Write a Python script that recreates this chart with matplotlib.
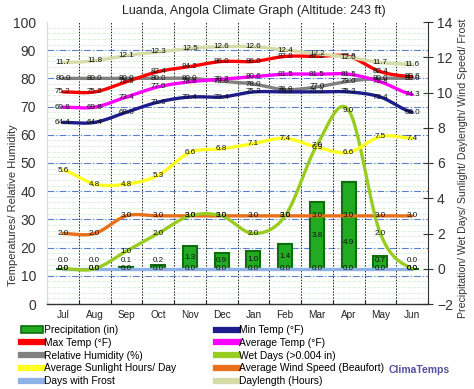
import numpy as np
import matplotlib
matplotlib.use("Agg")
import matplotlib.pyplot as plt
from matplotlib.patches import Patch
from matplotlib.lines import Line2D

plt.rcParams["font.family"] = ["Liberation Sans", "DejaVu Sans"]

months = ["Jul", "Aug", "Sep", "Oct", "Nov", "Dec", "Jan", "Feb", "Mar", "Apr", "May", "Jun"]
precip = [0.0, 0.0, 0.1, 0.2, 1.3, 0.9, 1.0, 1.4, 3.8, 4.9, 0.7, 0.0]
min_temp = [64.4, 64.4, 68.0, 71.6, 73.4, 73.4, 75.2, 75.2, 75.2, 75.2, 73.4, 68.0]
max_temp = [75.2, 75.2, 78.8, 82.4, 84.2, 86.0, 86.0, 87.8, 87.8, 87.8, 82.4, 80.6]
avg_temp = [69.8, 69.8, 73.4, 77.0, 78.8, 79.7, 80.6, 81.5, 81.5, 81.5, 78.8, 74.3]
humidity = [80.0, 80.0, 80.0, 80.0, 80.0, 79.0, 78.0, 76.0, 77.0, 79.0, 80.0, 80.0]
wet_days = [0.0, 0.0, 1.0, 2.0, 3.0, 3.0, 2.0, 3.0, 7.0, 9.0, 2.0, 0.0]
sunlight = [5.6, 4.8, 4.8, 5.3, 6.6, 6.8, 7.1, 7.4, 6.9, 6.6, 7.5, 7.4]
wind = [2.0, 2.0, 3.0, 3.0, 3.0, 3.0, 3.0, 3.0, 3.0, 3.0, 3.0, 3.0]
frost = [0.0] * 12
daylength = [11.7, 11.8, 12.1, 12.3, 12.5, 12.6, 12.6, 12.4, 12.2, 12.0, 11.7, 11.6]

title = "Luanda, Angola Climate Graph (Altitude: 243 ft)"


def smooth(vals, n=24):
    ys = np.asarray(vals, float)
    xs = np.arange(len(ys)) + 0.5
    p = np.concatenate([[ys[0]], ys, [ys[-1]]])
    ox, oy = [], []
    t = np.linspace(0, 1, n, endpoint=False)
    for i in range(len(ys) - 1):
        m1 = (p[i + 2] - p[i]) / 2.0
        m2 = (p[i + 3] - p[i + 1]) / 2.0
        h00 = 2 * t**3 - 3 * t**2 + 1
        h10 = t**3 - 2 * t**2 + t
        h01 = -2 * t**3 + 3 * t**2
        h11 = t**3 - t**2
        oy.extend(h00 * ys[i] + h10 * m1 + h01 * ys[i + 1] + h11 * m2)
        ox.extend(xs[i] + t)
    ox.append(xs[-1]); oy.append(ys[-1])
    return np.array(ox), np.array(oy)


fig = plt.figure(figsize=(4.74, 3.89), dpi=100)
ax = fig.add_axes([47 / 474, 1 - 304 / 389, (428 - 47) / 474, (304 - 22) / 389])
ax2 = ax.twinx()

x = np.arange(12) + 0.5
ax.set_xlim(0, 12)
ax.set_ylim(0, 100)
ax2.set_ylim(-2, 14)

# grids
for v in np.arange(2, 100, 2):
    ax.axhline(v, color="#d6efd6", lw=0.6, ls=(0, (4, 2)), zorder=0)
for v in range(10, 100, 10):
    ax.axhline(v, color="#5b7fd0", lw=0.8, ls=(0, (6, 2, 1, 2)), zorder=0.5)
for i in range(1, 12):
    ax.axvline(i, color="#222222", lw=0.7, ls=(0, (1.5, 1.5)), zorder=0.6)

lw = 2.4
fs_lab = 5.8

def draw(axis, vals, color, z=3):
    sx, sy = smooth(vals)
    axis.plot(sx, sy, color=color, lw=lw, solid_capstyle="round", zorder=z)
    for xi, v in zip(x, vals):
        axis.text(xi, v, f"{v:.1f}", fontsize=fs_lab, ha="center", va="center",
                  color="#111111", zorder=z + 5)

# left axis series
draw(ax, humidity, "#808080")
draw(ax, min_temp, "#1c1c8c")
draw(ax, avg_temp, "#ff00ff")
draw(ax, max_temp, "#ff0000")

# right axis series
ax2.bar(x, precip, width=0.44, bottom=0, color="#22aa22", edgecolor="#0e6e0e",
        linewidth=1.5, zorder=2)
for xi, v in zip(x, precip):
    yl = max(v / 2.0, 0.45)
    if abs(yl - 3.0) < 0.7:
        yl = 1.5
    ax2.text(xi, yl, f"{v:.1f}", fontsize=fs_lab, ha="center", va="center",
             color="#111111", zorder=10)
draw(ax2, frost, "#8fb2e6")
draw(ax2, wind, "#e8701a")
draw(ax2, wet_days, "#99cc22")
draw(ax2, sunlight, "#ffff22")
draw(ax2, daylength, "#d5dca8")

# axes styling
ax.set_xticks(range(13))
ax.set_xticklabels([])
ax.set_xticks(x, minor=True)
ax.set_xticklabels(months, minor=True, fontsize=7.2, color="#222222")
ax.tick_params(axis="x", which="minor", length=0, pad=4)
ax.tick_params(axis="x", which="major", length=3, direction="in", color="#222222")
ax.set_yticks(range(0, 101, 10))
ax.tick_params(axis="y", labelsize=10, colors="#333333", length=0, pad=8)
ax2.set_yticks(range(-2, 15, 2))
ax2.tick_params(axis="y", labelsize=10, colors="#333333", direction="inout", length=7,
                width=0.8, pad=3)
fig.text(13 / 474, 1 - 205 / 389, "Temperatures/ Relative Humidity", rotation=90,
         ha="center", va="center", fontsize=8, color="#333333")
fig.text(463 / 474, 1 - 168 / 389,
         "Precipitation/ Wet Days/ Sunlight/ Daylength/ Wind Speed/ Frost",
         rotation=90, ha="center", va="center", fontsize=7.6, color="#333333")
for a in (ax, ax2):
    a.spines["top"].set_visible(False)
ax.spines["left"].set_color("#c8ecc8")
ax2.spines["left"].set_visible(False)
ax.spines["right"].set_visible(False)
ax2.spines["right"].set_color("#333333")
ax2.spines["bottom"].set_visible(False)
ax.spines["bottom"].set_color("#333333")
ax.spines["bottom"].set_linewidth(1.0)

fig.text(254 / 474, 1 - 11 / 389, title, ha="center", va="center", fontsize=9, color="#222222")

# legend
hl = 4.5
h_left = [
    Patch(facecolor="#22aa22", edgecolor="#0e6e0e", linewidth=1.2),
    Line2D([], [], color="#ff0000", lw=hl),
    Line2D([], [], color="#808080", lw=hl),
    Line2D([], [], color="#ffff22", lw=hl),
    Line2D([], [], color="#8fb2e6", lw=hl),
]
l_left = ["Precipitation (in)", "Max Temp (°F)", "Relative Humidity (%)",
          "Average Sunlight Hours/ Day", "Days with Frost"]
h_right = [
    Line2D([], [], color="#1c1c8c", lw=hl),
    Line2D([], [], color="#ff00ff", lw=hl),
    Line2D([], [], color="#99cc22", lw=hl),
    Line2D([], [], color="#e8701a", lw=hl),
    Line2D([], [], color="#d5dca8", lw=hl),
]
l_right = ["Min Temp (°F)", "Average Temp (°F)", "Wet Days (>0.004 in)",
           "Average Wind Speed (Beaufort)", "Daylength (Hours)"]
common = dict(frameon=False, fontsize=7.4, handlelength=2.1, handleheight=0.6,
              handletextpad=0.15, labelspacing=0.27, borderpad=0, borderaxespad=0)
fig.legend(h_left, l_left, loc="upper left", bbox_to_anchor=(21 / 474, 1 - 325 / 389), **common)
fig.legend(h_right, l_right, loc="upper left", bbox_to_anchor=(216 / 474, 1 - 325 / 389), **common)
fig.text(419 / 474, 1 - 370 / 389, "ClimaTemps", ha="center", va="center", fontsize=7.5,
         color="#55509a", fontweight="bold")

fig.savefig("out.png", dpi=100)
